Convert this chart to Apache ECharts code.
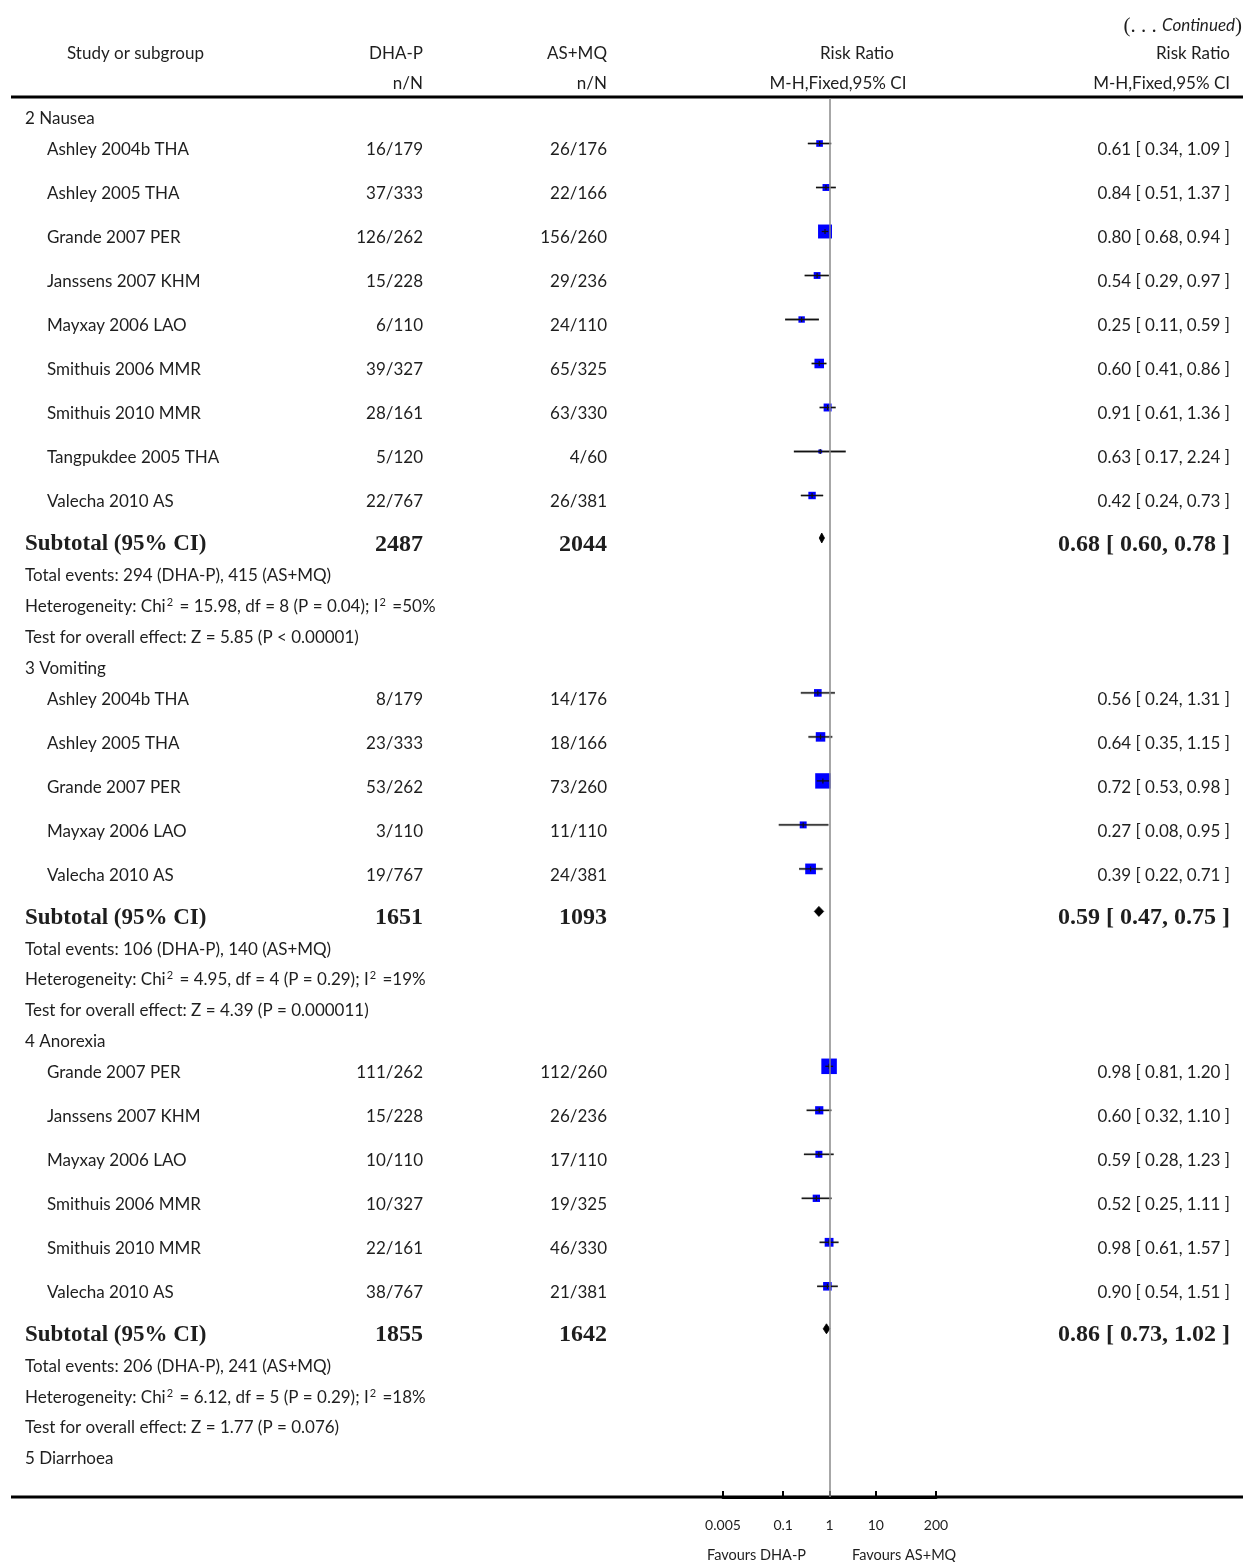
<!DOCTYPE html>
<html><head><meta charset="utf-8">
<script src="https://cdn.jsdelivr.net/npm/echarts@6/dist/echarts.min.js"></script>
<style>html,body{margin:0;padding:0;background:#fff}#c{width:1243px;height:1562px}</style>
</head><body><div id="c"></div>
<script>
// ---------- DATA ----------
const nauseaStudies = ['Ashley 2004b THA','Ashley 2005 THA','Grande 2007 PER','Janssens 2007 KHM','Mayxay 2006 LAO','Smithuis 2006 MMR','Smithuis 2010 MMR','Tangpukdee 2005 THA','Valecha 2010 AS'];
const nauseaDHAP = ['16/179','37/333','126/262','15/228','6/110','39/327','28/161','5/120','22/767'];
const nauseaASMQ = ['26/176','22/166','156/260','29/236','24/110','65/325','63/330','4/60','26/381'];
const nauseaRR = [0.61,0.84,0.80,0.54,0.25,0.60,0.91,0.63,0.42];
const nauseaLo = [0.34,0.51,0.68,0.29,0.11,0.41,0.61,0.17,0.24];
const nauseaHi = [1.09,1.37,0.94,0.97,0.59,0.86,1.36,2.24,0.73];
const nauseaWeight = [6.4,7.1,38.1,6.9,5.8,15.8,10.1,1.3,8.5];
const nauseaTotals = ['2487','2044'];
const nauseaSubtotal = [0.68,0.60,0.78];
const nauseaNotes = ['Total events: 294 (DHA-P), 415 (AS+MQ)','Heterogeneity: Chi{s|2} = 15.98, df = 8 (P = 0.04); I{s|2} =50%','Test for overall effect: Z = 5.85 (P < 0.00001)'];

const vomitStudies = ['Ashley 2004b THA','Ashley 2005 THA','Grande 2007 PER','Mayxay 2006 LAO','Valecha 2010 AS'];
const vomitDHAP = ['8/179','23/333','53/262','3/110','19/767'];
const vomitASMQ = ['14/176','18/166','73/260','11/110','24/381'];
const vomitRR = [0.56,0.64,0.72,0.27,0.39];
const vomitLo = [0.24,0.35,0.53,0.08,0.22];
const vomitHi = [1.31,1.15,0.98,0.95,0.71];
const vomitWeight = [9.1,15.6,47.5,7.1,20.8];
const vomitTotals = ['1651','1093'];
const vomitSubtotal = [0.59,0.47,0.75];
const vomitNotes = ['Total events: 106 (DHA-P), 140 (AS+MQ)','Heterogeneity: Chi{s|2} = 4.95, df = 4 (P = 0.29); I{s|2} =19%','Test for overall effect: Z = 4.39 (P = 0.000011)'];

const anorexStudies = ['Grande 2007 PER','Janssens 2007 KHM','Mayxay 2006 LAO','Smithuis 2006 MMR','Smithuis 2010 MMR','Valecha 2010 AS'];
const anorexDHAP = ['111/262','15/228','10/110','10/327','22/161','38/767'];
const anorexASMQ = ['112/260','26/236','17/110','19/325','46/330','21/381'];
const anorexRR = [0.98,0.60,0.59,0.52,0.98,0.90];
const anorexLo = [0.81,0.32,0.28,0.25,0.61,0.54];
const anorexHi = [1.20,1.10,1.23,1.11,1.57,1.51];
const anorexWeight = [48.4,11.0,7.3,8.2,13.0,12.1];
const anorexTotals = ['1855','1642'];
const anorexSubtotal = [0.86,0.73,1.02];
const anorexNotes = ['Total events: 206 (DHA-P), 241 (AS+MQ)','Heterogeneity: Chi{s|2} = 6.12, df = 5 (P = 0.29); I{s|2} =18%','Test for overall effect: Z = 1.77 (P = 0.076)'];

const groupTitles = ['2 Nausea','3 Vomiting','4 Anorexia','5 Diarrhoea'];
const tickValues = [0.005,0.1,1,10,200];
const tickLabels = ['0.005','0.1','1','10','200'];

// ---------- LAYOUT ----------
const SANS = 'Lato';
const SERIF = '"Liberation Serif","DejaVu Serif",serif';
const INK = '#1e1e1e';
const COL = {head: 25, study: 47, dhap: 423, asmq: 607, rr: 1230};
const GAP = {first: 19, 'head>study': 31, 'study>study': 44, 'study>sub': 42.5, 'sub>text': 31.5, 'text>text': 30.7, 'text>head': 31};
const MARK_DY = -4.5;
const TEXT_DY = 1.8;

const groups = [
  {title: groupTitles[0], st: nauseaStudies, a: nauseaDHAP, b: nauseaASMQ, rr: nauseaRR, lo: nauseaLo, hi: nauseaHi, w: nauseaWeight, tot: nauseaTotals, sub: nauseaSubtotal, notes: nauseaNotes},
  {title: groupTitles[1], st: vomitStudies, a: vomitDHAP, b: vomitASMQ, rr: vomitRR, lo: vomitLo, hi: vomitHi, w: vomitWeight, tot: vomitTotals, sub: vomitSubtotal, notes: vomitNotes},
  {title: groupTitles[2], st: anorexStudies, a: anorexDHAP, b: anorexASMQ, rr: anorexRR, lo: anorexLo, hi: anorexHi, w: anorexWeight, tot: anorexTotals, sub: anorexSubtotal, notes: anorexNotes},
  {title: groupTitles[3]}
];

const rows = [];
let yPos = 0, prev = null;
function addRow(r) {
  yPos += prev ? GAP[prev + '>' + r.type] : GAP.first;
  r.y = yPos; prev = r.type; rows.push(r);
}
groups.forEach(g => {
  addRow({type: 'head', text: g.title});
  if (!g.st) return;
  g.st.forEach((s, i) => addRow({type: 'study', name: s, a: g.a[i], b: g.b[i], rr: g.rr[i], lo: g.lo[i], hi: g.hi[i], w: g.w[i]}));
  addRow({type: 'sub', a: g.tot[0], b: g.tot[1], rr: g.sub[0], lo: g.sub[1], hi: g.sub[2]});
  g.notes.forEach(n => addRow({type: 'text', text: n}));
});

const fmt = v => v.toFixed(2);
const ciText = r => fmt(r.rr) + ' [ ' + fmt(r.lo) + ', ' + fmt(r.hi) + ' ]';

const GRID = {left: 723, right: 1243 - 936, top: 98, bottom: 1562 - 1497};
const Y_MAX = 1497 - 98;

function txt(text, x, y, align, opt) {
  opt = opt || {};
  return {type: 'text', x: x, y: y, silent: true, style: {
    text: text, align: align, verticalAlign: 'middle', fill: INK,
    fontSize: opt.size || 17, fontFamily: opt.family || SANS, fontWeight: opt.weight || 'normal',
    rich: {s: {fontSize: 11, fontFamily: SANS, fill: INK, verticalAlign: 'top', padding: [0, 2, 8, 1]}}
  }};
}

function renderLabels(params, api) {
  const r = rows[api.value(2)];
  const y = api.coord([1, api.value(1)])[1] + TEXT_DY;
  const ch = [];
  if (r.type === 'head' || r.type === 'text') ch.push(txt(r.text, COL.head, y, 'left'));
  else if (r.type === 'study') {
    ch.push(txt(r.name, COL.study, y, 'left'));
    ch.push(txt(r.a, COL.dhap, y, 'right'));
    ch.push(txt(r.b, COL.asmq, y, 'right'));
    ch.push(txt(ciText(r), COL.rr, y, 'right'));
  } else if (r.type === 'sub') {
    const o = {size: 23, family: SERIF, weight: 'bold'};
    const on = {size: 24, family: SERIF, weight: 'bold'};
    ch.push(txt('Subtotal (95% CI)', COL.head, y, 'left', o));
    ch.push(txt(r.a, COL.dhap, y, 'right', on));
    ch.push(txt(r.b, COL.asmq, y, 'right', on));
    ch.push(txt(ciText(r), COL.rr, y, 'right', on));
  }
  return {type: 'group', children: ch};
}

function renderStudy(params, api) {
  const yv = api.value(3);
  const y = api.coord([1, yv])[1] + MARK_DY;
  const xe = api.coord([api.value(0), yv])[0];
  const xl = api.coord([api.value(1), yv])[0];
  const xh = api.coord([api.value(2), yv])[0];
  const s = 1.6 + 2 * Math.sqrt(api.value(4));
  return {type: 'group', children: [
    {type: 'line', shape: {x1: xl, y1: y, x2: xh, y2: y}, style: {stroke: '#c4c4c4', lineWidth: 2.8}},
    {type: 'rect', shape: {x: xe - s / 2, y: y - s / 2, width: s, height: s}, style: {fill: '#0000ff'}},
    {type: 'line', shape: {x1: xl, y1: y, x2: xh, y2: y}, style: {stroke: '#111', lineWidth: 1.3}},
    {type: 'line', shape: {x1: xe, y1: y - 2.5, x2: xe, y2: y + 2.5}, style: {stroke: '#111', lineWidth: 1.2}}
  ]};
}

function renderDiamond(params, api) {
  const yv = api.value(3);
  const y = api.coord([1, yv])[1] + MARK_DY;
  const xe = api.coord([api.value(0), yv])[0];
  const xl = api.coord([api.value(1), yv])[0];
  const xh = api.coord([api.value(2), yv])[0];
  return {type: 'polygon', shape: {points: [[xl, y], [xe, y - 5], [xh, y], [xe, y + 5]]}, style: {fill: '#000', stroke: '#000', lineWidth: 0.8}};
}

const labelData = rows.map((r, i) => [1, r.y, i]);
const studyData = rows.filter(r => r.type === 'study').map(r => [r.rr, r.lo, r.hi, r.y, r.w]);
const subData = rows.filter(r => r.type === 'sub').map(r => [r.rr, r.lo, r.hi, r.y]);

const hdr = (text, x, y, align) => ({type: 'text', x: x, y: y, silent: true,
  style: {text: text, align: align, verticalAlign: 'middle', fontSize: 17, fontFamily: SANS, fill: INK}});

const chart = echarts.init(document.getElementById('c'), null, {renderer: 'canvas'});
chart.setOption({
  animation: false,
  backgroundColor: '#fff',
  grid: GRID,
  xAxis: {
    type: 'log', logBase: 10, min: 0.005, max: 200, position: 'bottom',
    axisLine: {show: true, onZero: false, lineStyle: {color: '#000', width: 3}},
    axisTick: {show: true, inside: true, length: 6, lineStyle: {color: '#000', width: 2}, customValues: tickValues},
    axisLabel: {show: true, customValues: tickValues, margin: 21, fontSize: 14, fontFamily: SANS, color: INK,
      formatter: v => {
        let best = 0;
        tickValues.forEach((t, i) => { if (Math.abs(Math.log(t) - Math.log(v)) < Math.abs(Math.log(tickValues[best]) - Math.log(v))) best = i; });
        return tickLabels[best];
      }},
    splitLine: {show: false}, minorTick: {show: false}
  },
  yAxis: {type: 'value', inverse: true, min: 0, max: Y_MAX, show: false},
  graphic: [
    {type: 'line', shape: {x1: 11, y1: 97, x2: 1243, y2: 97}, style: {stroke: '#000', lineWidth: 3}, silent: true},
    {type: 'line', shape: {x1: 11, y1: 1497, x2: 1243, y2: 1497}, style: {stroke: '#000', lineWidth: 3}, silent: true},
    hdr('Study or subgroup', 67, 54, 'left'),
    hdr('DHA-P', 423, 54, 'right'),
    hdr('n/N', 423, 84, 'right'),
    hdr('AS+MQ', 607, 54, 'right'),
    hdr('n/N', 607, 84, 'right'),
    hdr('Risk Ratio', 857, 54, 'center'),
    hdr('M-H,Fixed,95% CI', 838, 84, 'center'),
    hdr('Risk Ratio', 1230, 54, 'right'),
    hdr('M-H,Fixed,95% CI', 1230, 84, 'right'),
    {type: 'text', x: 1242, y: 26, silent: true, style: {text: '{a|(. . . }{b|Continued}{a|)}', align: 'right', verticalAlign: 'middle', fill: INK,
      rich: {a: {fontSize: 21, fontFamily: SERIF, fill: INK}, b: {fontSize: 17, fontFamily: SANS, fontStyle: 'italic', fill: INK}}}},
    {type: 'text', x: 806, y: 1555, silent: true, style: {text: 'Favours DHA-P', align: 'right', verticalAlign: 'middle', fontSize: 14.5, fontFamily: SANS, fill: INK}},
    {type: 'text', x: 852, y: 1555, silent: true, style: {text: 'Favours AS+MQ', align: 'left', verticalAlign: 'middle', fontSize: 14.5, fontFamily: SANS, fill: INK}}
  ],
  series: [
    {type: 'custom', name: 'labels', renderItem: renderLabels, data: labelData, encode: {x: 0, y: 1}, clip: false, silent: true, z: 3},
    {type: 'custom', name: 'studies', renderItem: renderStudy, data: studyData, encode: {x: [0, 1, 2], y: 3}, clip: false, z: 4,
      markLine: {silent: true, symbol: ['none', 'none'], label: {show: false}, lineStyle: {color: '#8a8a8a', width: 1.5, type: 'solid'}, data: [{xAxis: 1}]}},
    {type: 'custom', name: 'subtotals', renderItem: renderDiamond, data: subData, encode: {x: [0, 1, 2], y: 3}, clip: false, z: 4}
  ]
});
</script></body></html>
